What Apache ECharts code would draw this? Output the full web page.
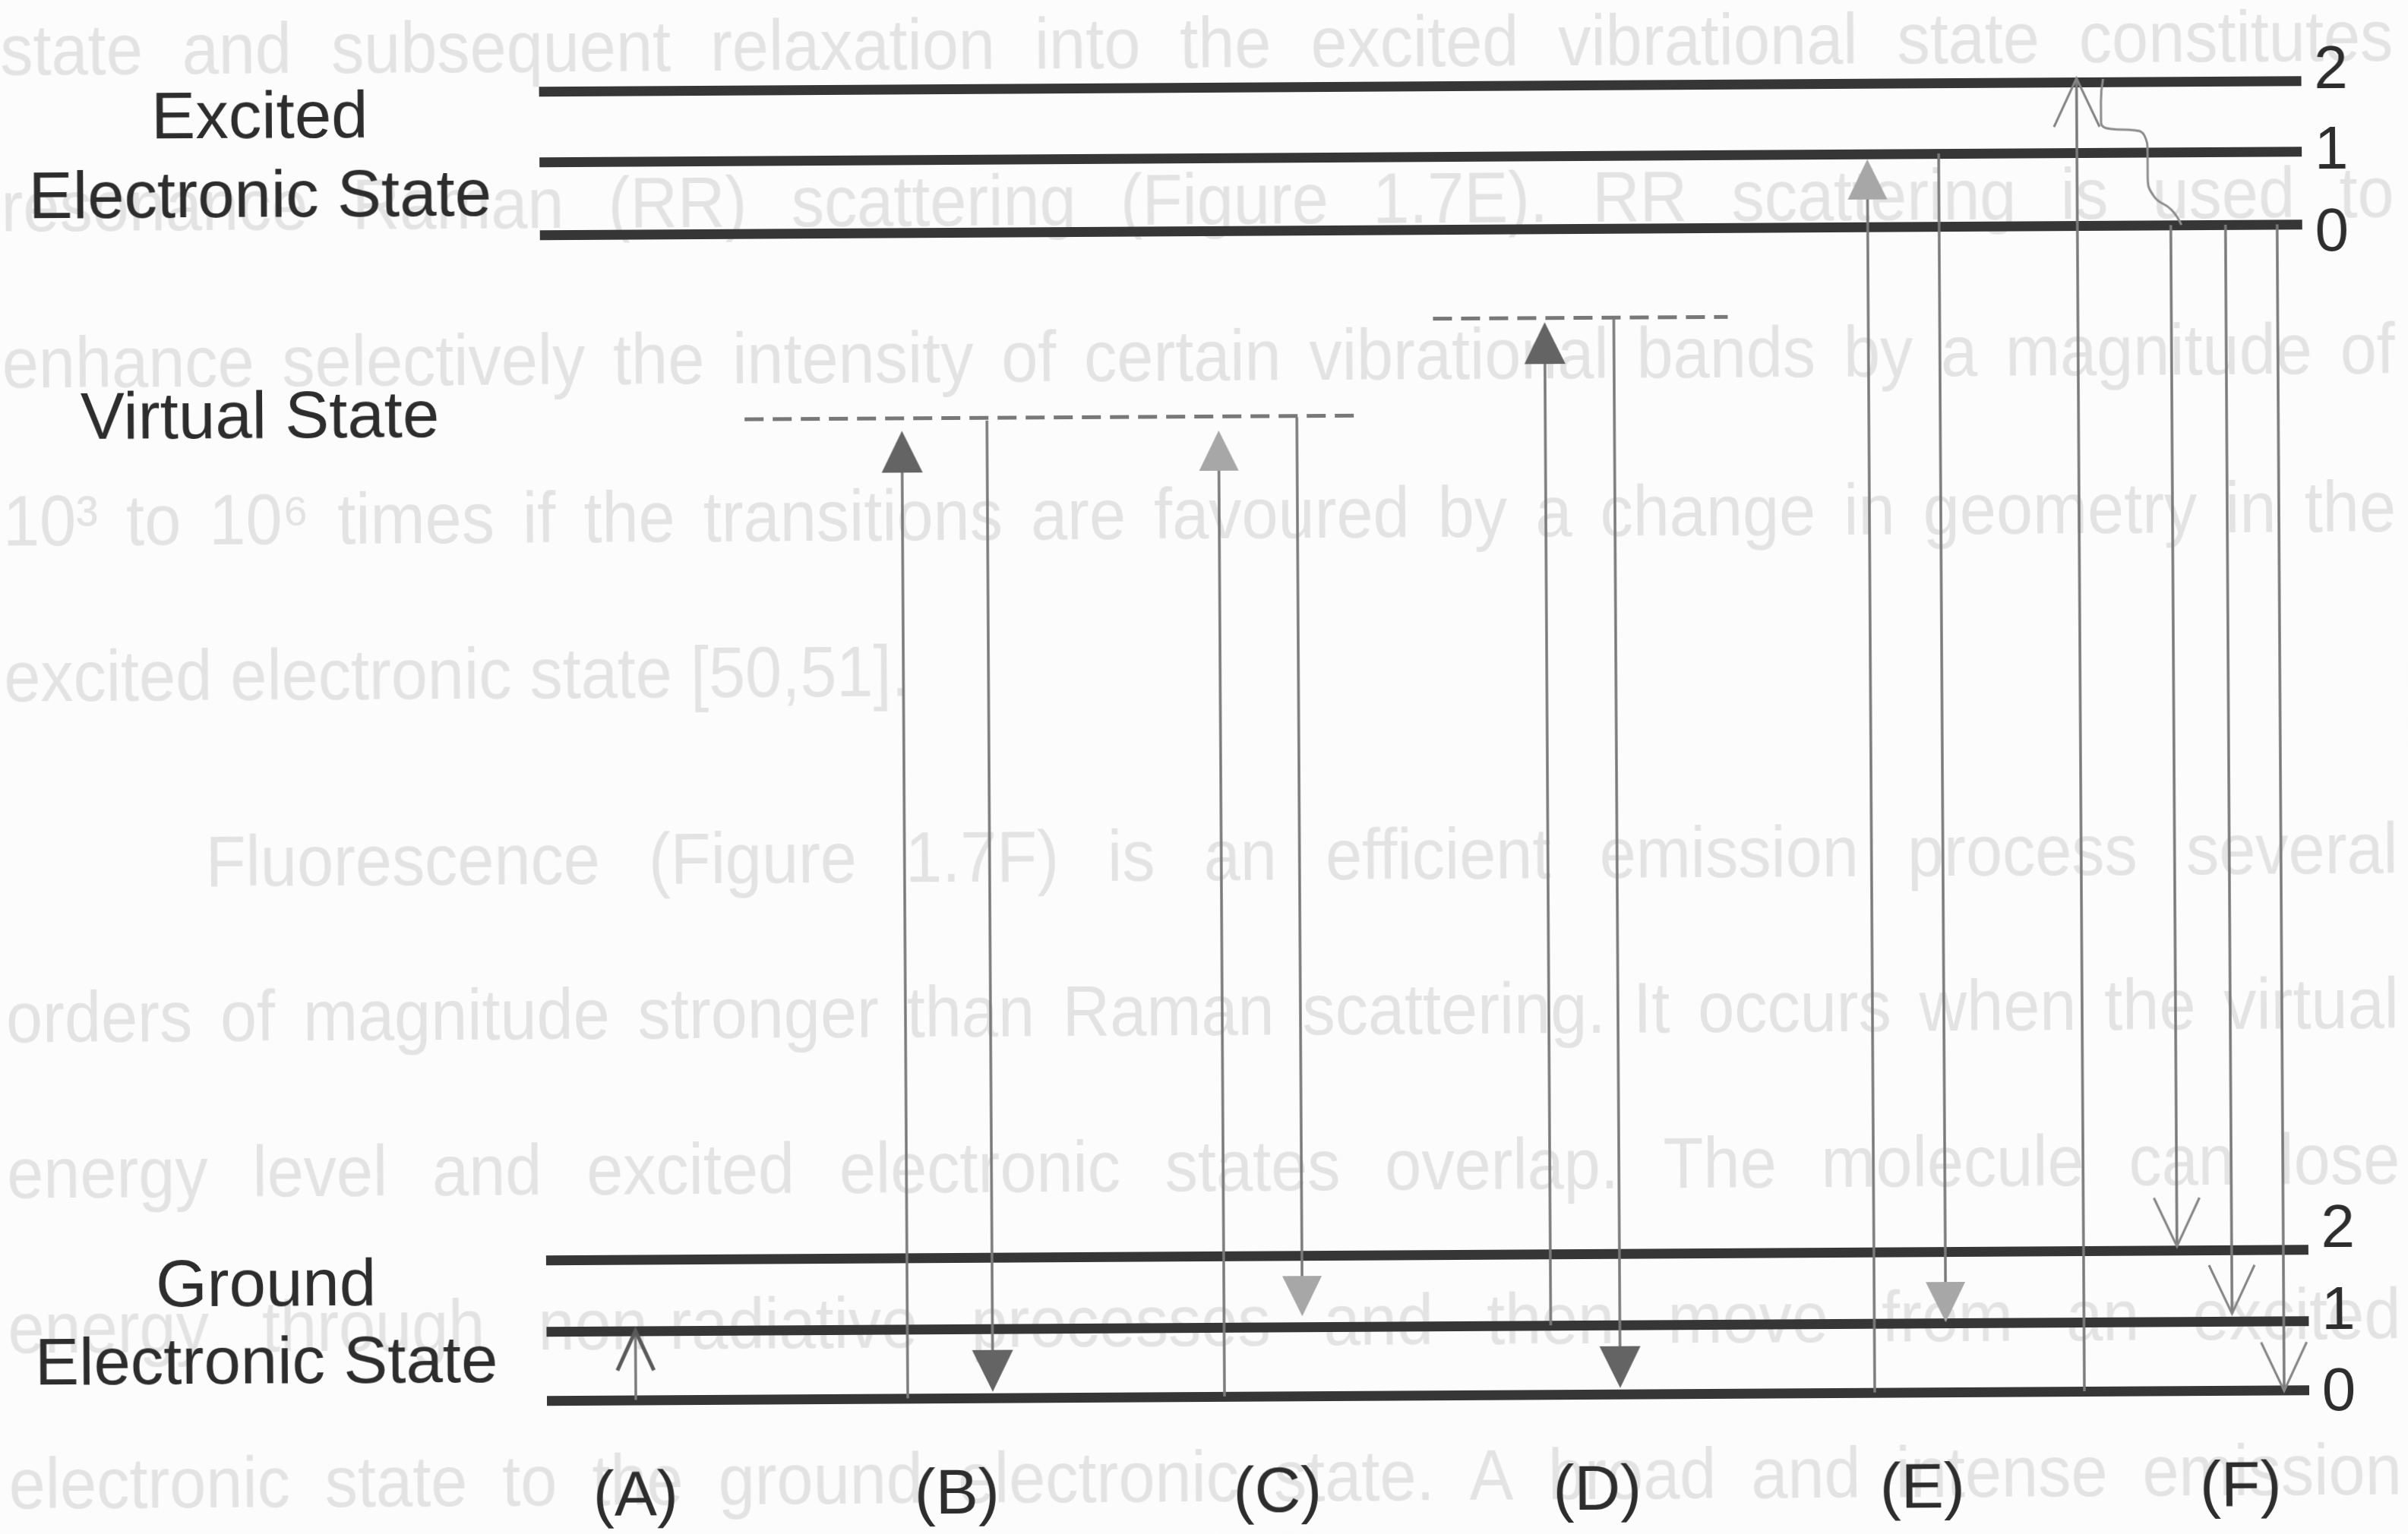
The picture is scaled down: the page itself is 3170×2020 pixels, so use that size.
<!DOCTYPE html>
<html>
<head>
<meta charset="utf-8">
<title>Energy level diagram</title>
<script src="https://cdn.jsdelivr.net/npm/echarts@6/dist/echarts.min.js"></script>
<style>
  html, body { margin: 0; padding: 0; background: #fcfcfc; overflow: hidden; }
  /* the scanned figure sits slightly tilted on the page */
  #main { width: 3170px; height: 2020px; transform: rotate(-0.346deg); transform-origin: 1585px 1010px; }
</style>
</head>
<body>
<div id="main"></div>
<script>
// energy levels, diagram units (y grows downwards)
var excitedLevels = [304, 208, 115];    // v = 0, 1, 2
var groundLevels = [1839, 1748, 1654];  // v = 0, 1, 2
var levelSpan = [715, 3035];
var levelTicks = ['0', '1', '2'];
var excitedTickY = [317, 209, 103];
var groundTickY = [1844, 1737, 1629];
var levelTickX = 3074;

// virtual states: x start, x end, y
var virtualLevels = [
  [983, 1792, 548],
  [1890, 2278, 421]
];

// transitions: x, from y, to y, arrow head
var transitions = [
  [832, 1839, 1748, 'bold'],    // A
  [1190, 1839, 565, 'dark'],    // B
  [1302, 552, 1831, 'dark'],
  [1607, 1839, 567, 'light'],   // C
  [1710, 550, 1734, 'light'],
  [2037, 1748, 427, 'dark'],    // D
  [2128, 424, 1831, 'dark'],
  [2463, 1839, 215, 'light'],   // E
  [2557, 208, 1747, 'light'],
  [2739, 1839, 110, 'open'],    // F
  [2862, 304, 1649, 'open'],
  [2934, 304, 1738, 'open'],
  [3002, 304, 1840, 'open']
];

// non-radiative relaxation (wavy line) in F
var relaxationPath = [
  [2774, 111], [2771, 141], [2771, 168], [2784, 177], [2815, 179], [2828, 186],
  [2832, 208], [2832, 239], [2840, 266], [2863, 284], [2876, 304]
];

var processLabels = ['(A)', '(B)', '(C)', '(D)', '(E)', '(F)'];
var processLabelX = [831, 1254, 1676, 2097, 2525, 2944];

// text showing through from the page behind
var pageLines = [
  'state and subsequent relaxation into the excited vibrational state constitutes',
  'resonance Raman (RR) scattering (Figure 1.7E). RR scattering is used to',
  'enhance selectively the intensity of certain vibrational bands by a magnitude of',
  '10\u00b3 to 10\u2076 times if the transitions are favoured by a change in geometry in the',
  'excited electronic state [50,51].',
  'Fluorescence (Figure 1.7F) is an efficient emission process several',
  'orders of magnitude stronger than Raman scattering. It occurs when the virtual',
  'energy level and excited electronic states overlap. The molecule can lose',
  'energy through non-radiative processes and then move from an excited',
  'electronic state to the ground electronic state. A broad and intense emission'
];
var pageBaselines = [96, 302, 508, 716, 921, 1166, 1370, 1575, 1779, 1984];
var pageIndent = [6, 6, 6, 6, 6, 270, 6, 6, 6, 6];
var pageJustified = [true, true, true, true, false, true, true, true, true, true];

var FONT = '"Liberation Sans", Arial, sans-serif';
var BG_SIZE = 94, BG_SCALE = 0.92, BG_RIGHT = 3156;

var heads = {
  dark:  { fill: '#646464', len: 55, half: 27 },
  light: { fill: '#a7a7a7', len: 53, half: 26 },
  open:  { stroke: '#858585', len: 64, half: 30, width: 3 },
  bold:  { stroke: '#5a5a5a', len: 52, half: 24, width: 5 }
};

var chart = echarts.init(document.getElementById('main'), null, { renderer: 'canvas' });

// lay out the faint page text word by word (justified)
var measure = document.createElement('canvas').getContext('2d');
measure.font = BG_SIZE + 'px ' + FONT;
var pageWords = [];
pageLines.forEach(function (line, i) {
  var words = line.split(' ');
  var widths = words.map(function (w) { return measure.measureText(w).width * BG_SCALE; });
  var total = widths.reduce(function (a, b) { return a + b; }, 0);
  var gap = pageJustified[i]
    ? (BG_RIGHT - pageIndent[i] - total) / (words.length - 1)
    : measure.measureText(' ').width * BG_SCALE;
  var x = pageIndent[i];
  words.forEach(function (w, k) {
    pageWords.push({
      type: 'text', x: x, y: pageBaselines[i] - 0.3465 * BG_SIZE, scaleX: BG_SCALE,
      silent: true, z: -5,
      style: { text: w, fontSize: BG_SIZE, fontFamily: FONT, fill: '#e3e3e3', align: 'left', verticalAlign: 'middle' }
    });
    x += widths[k] + gap;
  });
});

function label(text, x, y, size, align) {
  return {
    type: 'text', x: x, y: y, silent: true, z: 100,
    style: { text: text, fontSize: size, fontFamily: FONT, fill: '#2d2d2d', align: align || 'center', verticalAlign: 'middle' }
  };
}

var labels = [
  label('Excited', 347, 150, 87),
  label('Electronic State', 347, 254, 87),
  label('Virtual State', 345, 545, 87),
  label('Ground', 346, 1688, 87),
  label('Electronic State', 346, 1790, 87)
];
processLabels.forEach(function (t, i) { labels.push(label(t, processLabelX[i], 1968, 84)); });
levelTicks.forEach(function (t, i) {
  labels.push(label(t, levelTickX, excitedTickY[i], 80));
  labels.push(label(t, levelTickX, groundTickY[i], 80));
});

var allLevels = excitedLevels.concat(groundLevels);

var option = {
  backgroundColor: '#fcfcfc',
  animation: false,
  grid: { left: 0, right: 0, top: 0, bottom: 0 },
  xAxis: { type: 'value', min: 0, max: 3170, show: false },
  yAxis: { type: 'value', min: 0, max: 2020, inverse: true, show: false },
  graphic: pageWords.concat(labels),
  series: [
    {
      name: 'levels',
      type: 'lines',
      coordinateSystem: 'cartesian2d',
      silent: true,
      z: 3,
      lineStyle: { color: '#363636', width: 13, opacity: 1 },
      data: allLevels.map(function (y) { return { coords: [[levelSpan[0], y], [levelSpan[1], y]] }; })
    },
    {
      name: 'virtual',
      type: 'lines',
      coordinateSystem: 'cartesian2d',
      silent: true,
      z: 3,
      lineStyle: { color: '#787878', width: 5, opacity: 1, type: [25, 12] },
      data: virtualLevels.map(function (v) { return { coords: [[v[0], v[2]], [v[1], v[2]]] }; })
    },
    {
      name: 'relaxation',
      type: 'line',
      smooth: 0.5,
      showSymbol: false,
      silent: true,
      z: 4,
      lineStyle: { color: '#8c8c8c', width: 3 },
      data: relaxationPath
    },
    {
      name: 'transitions',
      type: 'custom',
      silent: true,
      z: 5,
      data: transitions.map(function (t) { return [t[0], t[1], t[2]]; }),
      encode: { x: 0, y: [1, 2] },
      renderItem: function (params, api) {
        var h = heads[transitions[params.dataIndex][3]];
        var p0 = api.coord([api.value(0), api.value(1)]);
        var p1 = api.coord([api.value(0), api.value(2)]);
        var dir = p1[1] > p0[1] ? 1 : -1;
        var x = p1[0], tip = p1[1], base = tip - dir * h.len;
        var children = [{
          type: 'line',
          shape: { x1: p0[0], y1: p0[1], x2: x, y2: h.fill ? base : tip },
          style: { stroke: '#7a7a7a', lineWidth: 3.5 }
        }];
        if (h.fill) {
          children.push({
            type: 'polygon',
            shape: { points: [[x, tip], [x - h.half, base], [x + h.half, base]] },
            style: { fill: h.fill }
          });
        } else {
          children.push({
            type: 'polyline',
            shape: { points: [[x - h.half, base], [x, tip], [x + h.half, base]] },
            style: { stroke: h.stroke, lineWidth: h.width, fill: null }
          });
        }
        return { type: 'group', children: children };
      }
    }
  ]
};

chart.setOption(option);
</script>
</body>
</html>
